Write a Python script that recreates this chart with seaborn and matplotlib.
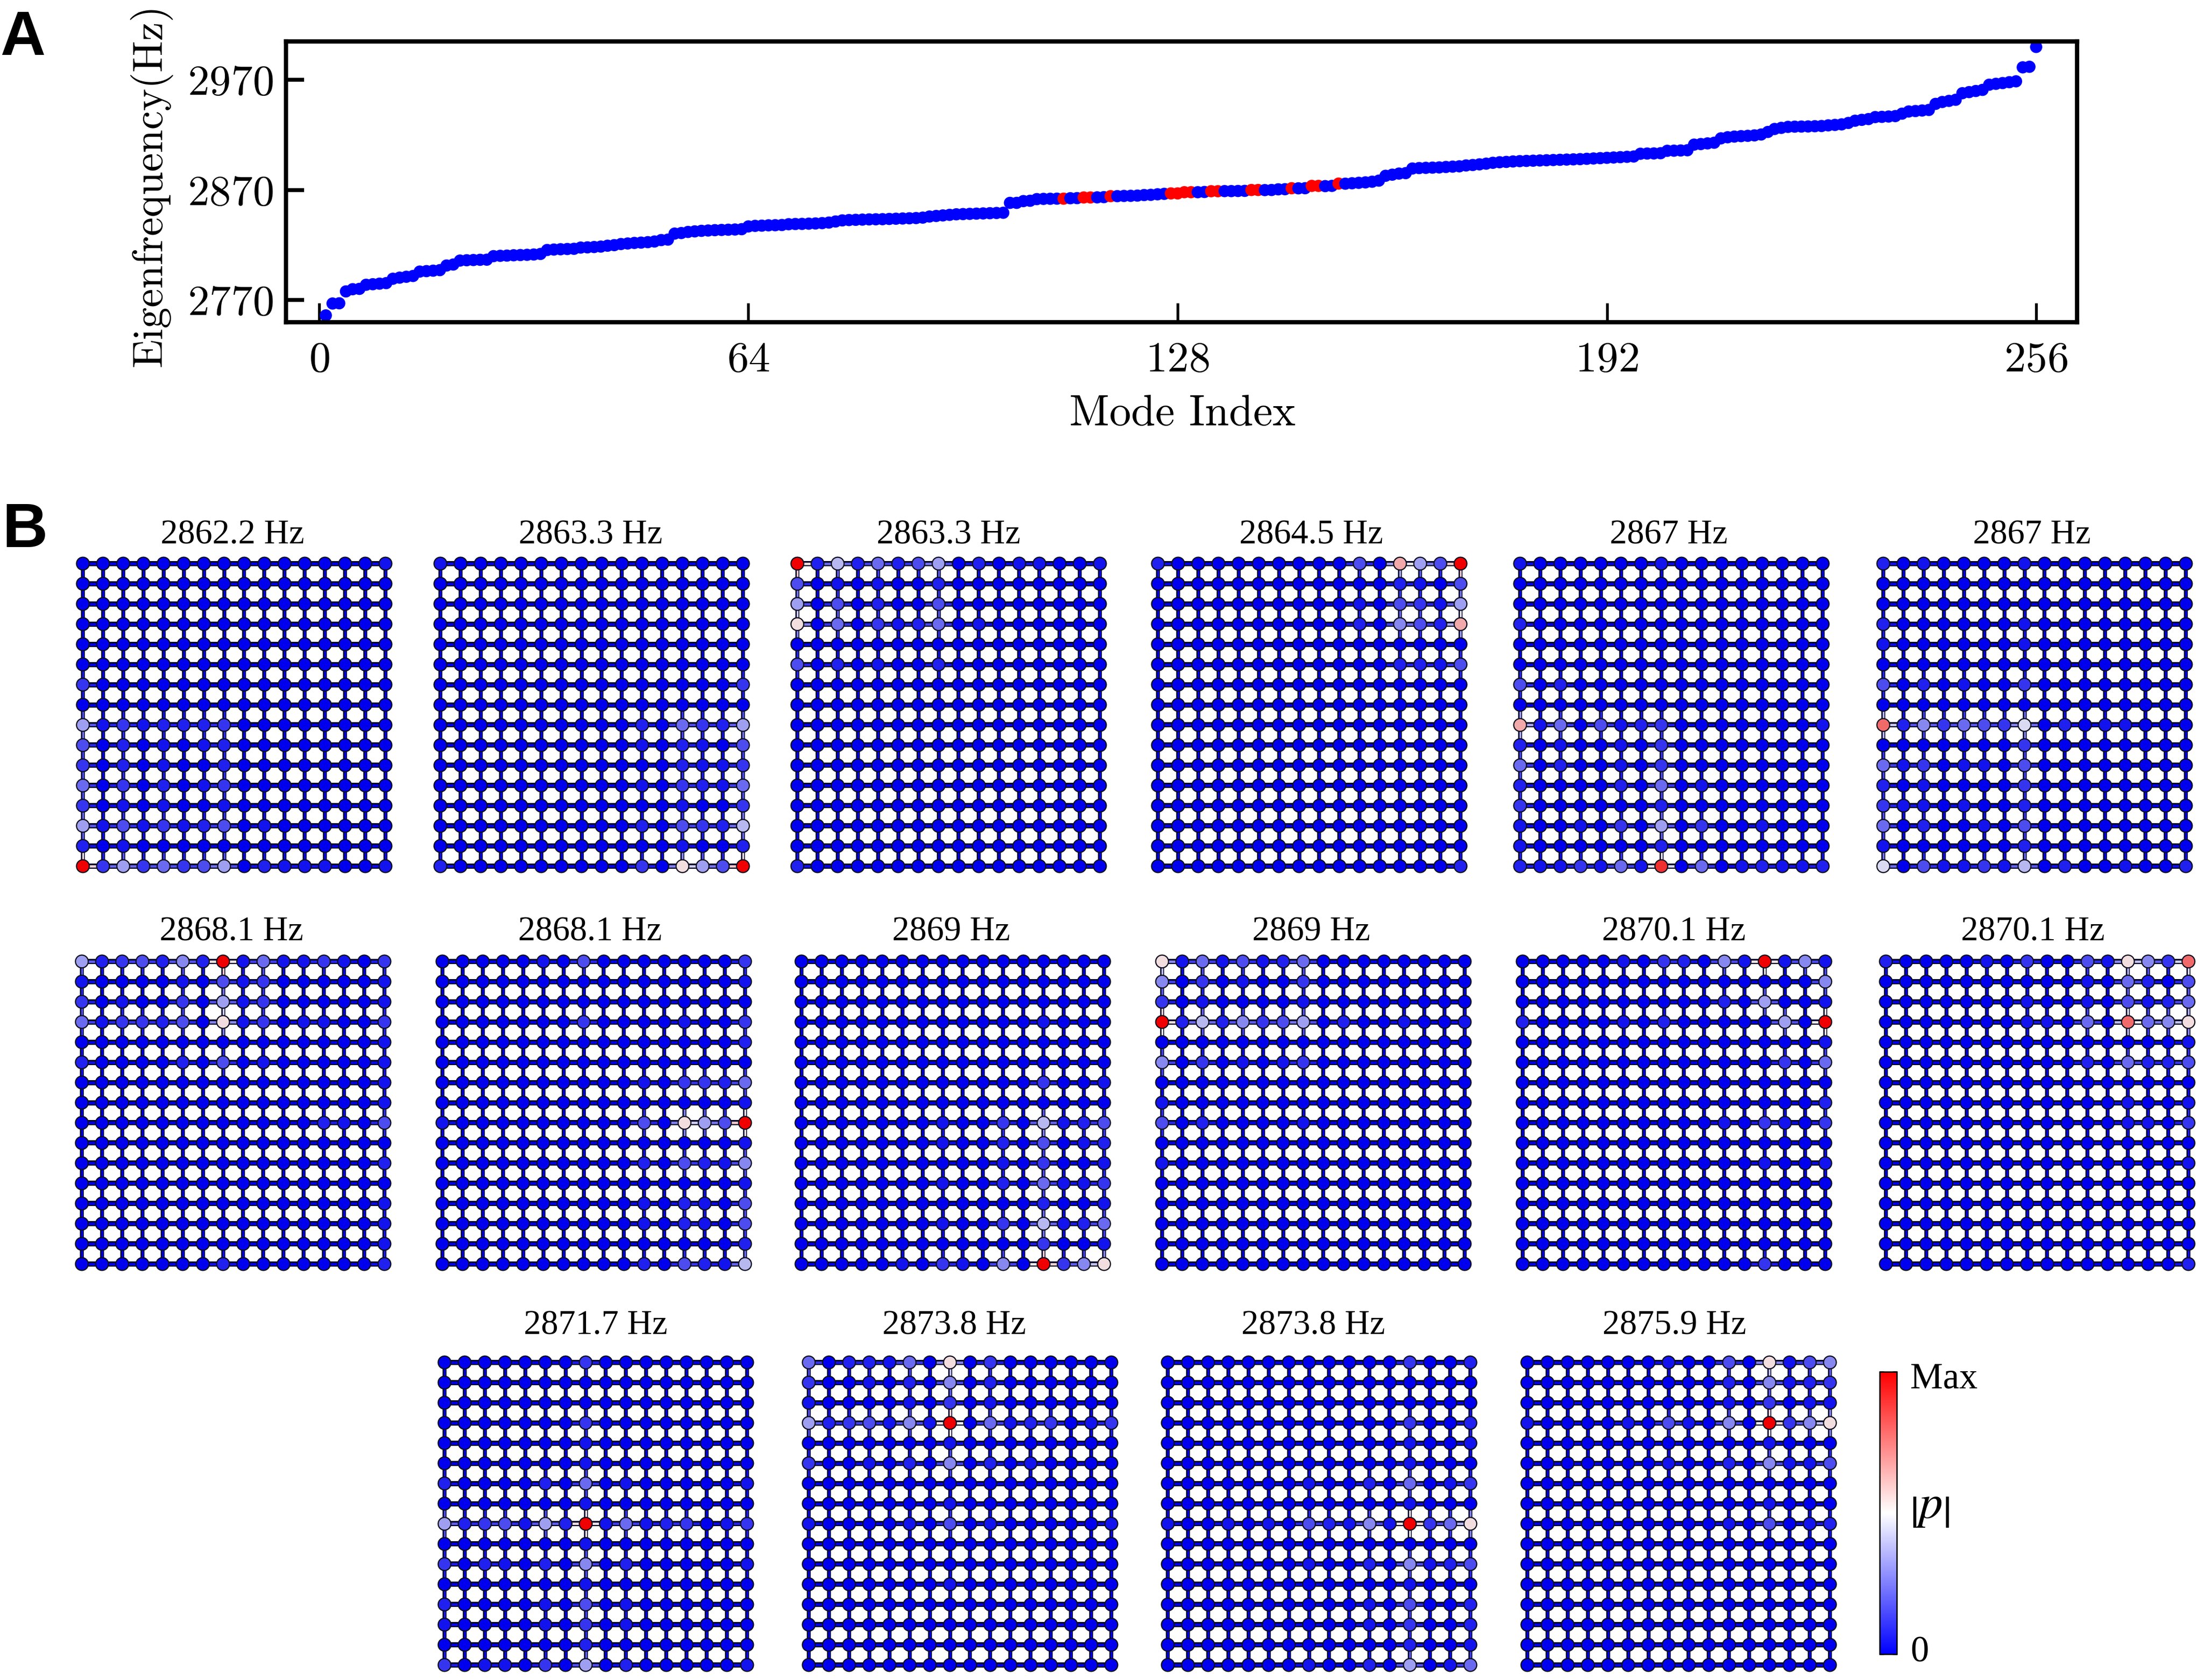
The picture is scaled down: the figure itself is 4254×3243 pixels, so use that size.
import numpy as np
import pandas as pd
import matplotlib
matplotlib.use('Agg')
import matplotlib.pyplot as plt
from matplotlib.collections import LineCollection
from matplotlib.colors import LinearSegmentedColormap
from matplotlib.cm import ScalarMappable
import seaborn as sns

# --- panel A: measured eigenfrequencies, mode 1..256
freq_a = [2756.2, 2767, 2767.2, 2778, 2780, 2780.3, 2784, 2784.5, 2785, 2785.5,
          2789.5, 2790.5, 2791.3, 2792, 2796, 2796.4, 2796.8, 2797.3, 2801.5, 2802.4,
          2806, 2806.3, 2806.5, 2806.7, 2806.8, 2810, 2810.3, 2810.5, 2810.8, 2811,
          2811.2, 2811.5, 2812, 2815.6, 2816, 2816.3, 2816.5, 2816.7, 2817.8, 2818,
          2818.3, 2818.7, 2819.5, 2820, 2821, 2821.5, 2822, 2822.3, 2822.7, 2823.3,
          2824.6, 2825]
freq_b = [2830.5, 2831, 2832, 2832.5, 2833, 2833.3, 2833.6, 2833.8, 2834, 2834.2,
          2834.5, 2837, 2837.5, 2837.7, 2838, 2838.1, 2838.3, 2839, 2839.2, 2839.3,
          2839.5, 2839.7, 2840, 2840.5, 2841.5, 2842.5, 2842.8, 2843, 2843.2, 2843.4,
          2843.5, 2843.6, 2843.8, 2844, 2844.2, 2844.4, 2844.6, 2845, 2846, 2846.5,
          2847, 2847.5, 2848, 2848.2, 2848.4, 2848.6, 2848.8, 2849, 2849.2, 2849.4]
freq_c = [2858.4, 2858.4, 2860, 2860.3, 2861.8, 2862, 2862.1, 2862.2, 2862.2, 2862.6,
          2862.7, 2863.3, 2863.3, 2863.4, 2863.6, 2864.5, 2864.5, 2864.7, 2864.8, 2865,
          2865.5, 2865.7, 2866.2, 2866.6, 2867, 2867, 2868.1, 2868.1, 2868.1, 2868.3,
          2869, 2869, 2869.1, 2869.1, 2869.2, 2869.3, 2870.1, 2870.1, 2870, 2870.1,
          2870.7, 2870.8, 2871.7, 2871.6, 2871.7, 2873.8, 2873.8, 2873.6, 2873.8, 2875.9]
freq_d = [2875.8, 2876.2, 2876.6, 2877, 2877.6, 2878.6, 2883, 2884, 2885, 2885.4,
          2889.6, 2890, 2890.2, 2890.4, 2890.6, 2891, 2891.3, 2891.6, 2892.4, 2892.8,
          2893.4, 2894, 2894.8, 2895.3, 2895.6, 2896, 2896.3, 2896.5, 2896.7, 2896.9,
          2897.1, 2897.3, 2897.5, 2897.7, 2897.9, 2898.1, 2898.4, 2898.7, 2899, 2899.3,
          2899.6, 2899.9, 2900.2, 2900.5, 2903, 2903.2, 2903.3, 2903.5, 2905.7, 2905.8,
          2906, 2906.2]
freq_e = [2911.3, 2911.8, 2912.4, 2913, 2917, 2918, 2918.6, 2919, 2919.3, 2919.7,
          2920.5, 2922.8, 2925.5, 2926.5, 2927.4, 2927.6, 2927.7, 2927.8, 2928, 2928.2,
          2928.8, 2929.2, 2929.7, 2931, 2933, 2933.8, 2934.5, 2936.3, 2936.5, 2936.8,
          2937.2, 2939.4, 2941.4, 2941.8, 2942.3, 2942.8, 2948.3, 2950, 2951, 2952,
          2958, 2959, 2960, 2961, 2965.7, 2966.5, 2967.2, 2968, 2968.8, 2981.5,
          2982, 3000]
red_modes = [111, 114, 115, 118, 127, 128, 129, 130, 133, 134, 139, 140, 145, 148, 149, 152]
x_ticks = [0, 64, 128, 192, 256]
y_ticks = [2770, 2870, 2970]

# --- panel B: |p| on the 16x16 lattice, one hex digit per node (see levels)
levels = [0, .04, .07, .11, .16, .22, .28, .33, .38, .45, .49, .54, .65, .78, .9, 1]
Z = "0000000000000000"

titles = ["2862.2 Hz", "2863.3 Hz", "2863.3 Hz", "2864.5 Hz", "2867 Hz", "2867 Hz",
          "2868.1 Hz", "2868.1 Hz", "2869 Hz", "2869 Hz", "2870.1 Hz", "2870.1 Hz",
          "2871.7 Hz", "2873.8 Hz", "2873.8 Hz", "2875.9 Hz"]

p1 = ["0000000000000001", Z, Z, Z, Z, Z, "3000000000000000", Z,
      "7131222300000000", "4020101200000000", "3020100200000000", "5030201300000000",
      "3010100100000000", "7141312401000000", "2010000000000000", "f373534702111001"]
p2 = ["1000000000000000", Z, Z, Z, Z, Z, "0000000000000003", Z,
      "0000000000205327", "0000000000102104", "0000000000002113", "0000000000103215",
      "0000000000001003", "0000000000204328", "0000000000001002", "200000000030b74f"]
p3 = ["f282524702011001", "4010100200000000", "7040200400000000", "b050312501000000",
      Z, "4020100200000000", Z, Z, Z, Z, Z, Z, Z, Z, Z, "2000000000000000"]
p4 = ["200000000040c74f", "0000000000002104", "0000000000104317", "000000000020642c",
      Z, "0000000000002214", Z, Z, Z, Z, Z, Z, Z, Z, Z, "0000000000000002"]
p5 = ["1000000100000000", Z, Z, "2000000000000000", Z, Z, "4020000000000000", Z,
      "c150412300000001", "2010010300000000", "5020010300000000", "2000020501000000",
      "3000000200000000", "1001030703001000", "1000000200000000", "2113151e05012112"]
p6 = ["2010000100000000", Z, Z, "2000000100000000", "1000000100000000", Z,
      "4020100300000000", Z, "d263543902011000", "0000000300000000", "5130110400000000",
      "2010000300000000", "3110100200000000", "5020010400000000", "1000000200000000",
      "9041131802001002"]
p7 = ["7234262f15113103", "1000010413000001", "3010030713000001", "5133240b13011003",
      "0000000000000001", "2000020401000001", "0000000000000001", "0000000000000001",
      "0000000000002104", Z, "0000000000000002", Z, "0000000000000001",
      "0000000000000001", "0000000000000001", "0000000200000002"]
p8 = ["0000010400000003", "0000000000000001", Z, "0000000300001003", "0000000000000002",
      Z, "0000000000103325", "0000000000000001", "100000000040b74f", "0000000000000001",
      "0000000000204216", "0000000000000001", "0000000000102104", "0000000000102104",
      "0000000000000002", "0000000000204218"]
p9 = [Z, Z, Z, "0000000000001000", Z, Z, "0000000000003001", Z,
      "0000000100308124", "0000000100204012", "0000000000103001", "0000000100205113",
      "0000000000002001", "0000000100308125", "0000000000003001", "000001031060f36b"]
p10 = ["b151412500000000", "6030100300000000", "3010000100000000", "f282634702001001",
       Z, "6030101300000000", Z, "1000000000000000", "4020000100000000", Z,
       "1000000000000000", Z, Z, Z, Z, Z]
p11 = ["000001032061f161", "0000000000000006", "0000000000207001", "200001020000070f",
       "0000000000000001", "0000000000000305", Z, "0000000000000002",
       "0000000000103103", Z, "0000000000001001", Z, Z, Z, Z, "0000000000003000"]
p12 = ["200001030041b63d", "0000000000105204", "0000000100104125", "000000011050d56b",
       "0000000000000001", "0000000000205224", Z, "0000000000001001",
       "0000000000001103", Z, "0000000000000001", Z, Z, Z, Z, "0000000000000002"]
p13 = ["0000000300000000", Z, Z, "0000000300000000", "0000000100000000",
       "0000000100000000", "2000020501000001", "0000000100000000", "7234172f15123013",
       "0000000100000000", "3021020602000001", "0000000100000000", "2000010401000000",
       "1000010301000000", "0000000200000000", "3011030702000001"]
p14 = ["5022150b03000000", "3001020602000000", "1000010301000000", "7234161f05123013",
       "0000000100000000", "3001020602010000", Z, "0000000100000000",
       "1000010401000001", Z, Z, "0000000100000000", Z, Z, Z, Z]
p15 = ["0000000000003002", Z, Z, "0000000000003002", "0000000000001001",
       "0000000000001000", "0000000100205013", "0000000000001000", "100101042161f35b",
       Z, "0000000100206124", "0000000000001000", "0000000000104002",
       "0000000000103002", "0000000000002001", "0000000100207015"]
p16 = ["000000010040b146", "0000000000206123", "0000000000103011", "100001041060f36b",
       "0000000000001000", "0000000100206114", Z, "0000000000001000",
       "0000000000104012", Z, Z, Z, Z, Z, Z, Z]
panels = [p1, p2, p3, p4, p5, p6, p7, p8, p9, p10, p11, p12, p13, p14, p15, p16]

# --- layout in reference pixels
W, H = 4254, 3243
first_node_x = [160, 850, 1539, 2235, 2934, 3635,
                158, 854, 1547, 2243, 2939, 3640,
                858, 1561, 2254, 2948]
first_node_y = [1088] * 6 + [1856] * 6 + [2630] * 4
title_x = [449, 1140, 1831, 2531, 3221, 3922,
           447, 1139, 1836, 2531, 3231, 3924,
           1150, 1842, 2535, 3232]
title_y = [1050] * 6 + [1815] * 6 + [2575] * 4
span = 584

sns.set_style("ticks")
plt.rcParams['font.family'] = ['Liberation Serif', 'DejaVu Serif']
plt.rcParams['mathtext.fontset'] = 'stix'
plt.rcParams['axes.formatter.use_mathtext'] = True
plt.rcParams['text.color'] = 'black'
plt.rcParams['axes.edgecolor'] = 'black'
plt.rcParams['xtick.color'] = 'black'
plt.rcParams['ytick.color'] = 'black'

node_cmap = LinearSegmentedColormap.from_list('nodes', ['#0000ee', '#f2f2f2', '#f00000'])

fig = plt.figure(figsize=(W / 300, H / 300), dpi=300)


def px_axes(left, top, right, bottom):
    return fig.add_axes([left / W, 1 - bottom / H, (right - left) / W, (bottom - top) / H])


# panel A
ax = px_axes(552, 80, 4009, 622)
freqs = freq_a + freq_b + freq_c + freq_d + freq_e
df = pd.DataFrame({'mode': np.arange(1, len(freqs) + 1), 'freq': freqs})
df['kind'] = np.where(df['mode'].isin(red_modes), 'edge', 'bulk')
sns.scatterplot(data=df, x='mode', y='freq', hue='kind', palette={'bulk': '#0000ff', 'edge': '#ff0000'},
                s=32, linewidth=0, legend=False, ax=ax, clip_on=False)
ax.set_xlim(-4.94, 262.1)
ax.set_ylim(2750, 3005)
ax.set_xticks(x_ticks)
ax.set_yticks(y_ticks)
ax.tick_params(axis='x', direction='in', length=9, width=1.3, pad=9)
ax.tick_params(axis='y', direction='in', length=8.5, width=1.8, pad=6)
for lab in ax.get_xticklabels() + ax.get_yticklabels():
    lab.set_fontfamily('cmr10')
    lab.set_fontsize(20)
for s in ax.spines.values():
    s.set_linewidth(2)
    s.set_visible(True)
ax.set_xlabel('')
ax.set_ylabel('')
fig.text(2282 / W, 1 - 800 / H, 'Mode Index', family='cmr10', fontsize=20.2, ha='center', va='center')
fig.text(291 / W, 1 - 358 / H, 'Eigenfrequency(Hz)', family='cmr10', fontsize=19.5, rotation=90,
         ha='center', va='center')

# panel letters
fig.text(1 / W, 1 - 106 / H, 'A', family='Liberation Sans', weight='bold', fontsize=29, va='baseline')
fig.text(5 / W, 1 - 1056 / H, 'B', family='Liberation Sans', weight='bold', fontsize=29, va='baseline')

# panel B lattices
for k, rows in enumerate(panels):
    x0, y0 = first_node_x[k], first_node_y[k]
    step = span / 15
    ax = px_axes(x0 - step / 2, y0 - step / 2, x0 + span + step / 2, y0 + span + step / 2)
    amp = np.array([[levels[int(c, 16)] for c in r] for r in rows])
    jj, ii = np.meshgrid(np.arange(16), np.arange(16))
    cell = pd.DataFrame({'col': jj.ravel(), 'row': ii.ravel(), 'p': amp.ravel()})

    h_seg = [[(j, i), (j + 1, i)] for i in range(16) for j in range(15)]
    h_col = [node_cmap((amp[i, j] + amp[i, j + 1]) / 2) for i in range(16) for j in range(15)]
    v_seg = [[(j, i), (j, i + 1)] for i in range(15) for j in range(16)]
    v_col = [node_cmap((amp[i, j] + amp[i + 1, j]) / 2) for i in range(15) for j in range(16)]
    ax.add_collection(LineCollection(h_seg, colors='#05052a', linewidths=2.4, zorder=1))
    ax.add_collection(LineCollection(h_seg, colors=h_col, linewidths=1.1, zorder=1.1))
    ax.add_collection(LineCollection(v_seg, colors='#05052a', linewidths=1.8, zorder=1))
    ax.add_collection(LineCollection(v_seg, colors=v_col, linewidths=0.8, zorder=1.1))

    sns.scatterplot(data=cell, x='col', y='row', hue='p', palette=node_cmap, hue_norm=(0, 1),
                    s=35, edgecolor='#101020', linewidth=0.55, legend=False, ax=ax, zorder=3)
    ax.set_xlim(-0.5, 15.5)
    ax.set_ylim(15.5, -0.5)
    ax.axis('off')
    fig.text(title_x[k] / W, 1 - title_y[k] / H, titles[k], fontsize=16, ha='center', va='baseline')

# colour bar
cax = px_axes(3628, 2648, 3661, 3193)
cb = fig.colorbar(ScalarMappable(cmap='bwr', norm=plt.Normalize(0, 1)), cax=cax)
cb.set_ticks(np.arange(0, 1.01, 0.1))
cb.ax.tick_params(direction='in', length=2, width=0.6, left=True, right=True, labelleft=False,
                  labelright=False)
cb.outline.set_linewidth(0.6)
fig.text(3687 / W, 1 - 2680 / H, 'Max', fontsize=17, va='baseline')
fig.text(3687 / W, 1 - 3208 / H, '0', fontsize=17, va='baseline')
fig.text(3725 / W, 1 - 2910 / H, r'$\left|p\right|$', fontsize=22, ha='center', va='center')

fig.savefig('out.png', dpi=300)
